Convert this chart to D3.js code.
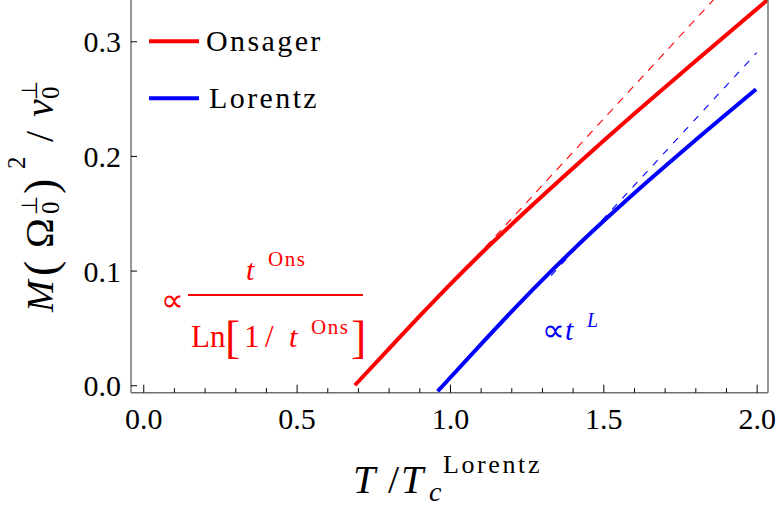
<!DOCTYPE html>
<html>
<head>
<meta charset="utf-8">
<script src="https://cdn.jsdelivr.net/npm/d3@7"></script>
<style>
  html, body { margin: 0; padding: 0; background: #fff; }
  svg { display: block; }
</style>
</head>
<body>
<svg id="chart" width="779" height="512"></svg>
<script>
// M (Omega_0^perp)^2 / nu_0^perp versus T / T_c^Lorentz
const onsagerT = [0.69, 0.8, 0.9, 1.0, 1.1, 1.2, 1.4, 1.6, 1.8, 2.04];
const onsagerM = [0.0, 0.0315, 0.0600, 0.0878, 0.1145, 0.1400, 0.1890, 0.2365, 0.2825, 0.3372];

const lorentzT = [0.96, 0.978, 1.1, 1.2, 1.3, 1.4, 1.5, 1.6, 1.8, 1.998];
const lorentzM = [-0.0053, 0.0, 0.0355, 0.0640, 0.0915, 0.1178, 0.1430, 0.1673, 0.2137, 0.2582];

// straight-line asymptotes (dashed)
const onsagerAsymT = [0.95, 1.86];
const onsagerAsymM = [0.0725, 0.3364];
const lorentzAsymT = [1.33, 2.0];
const lorentzAsymM = [0.0957, 0.29];

const xMajorTicks = [0.0, 0.5, 1.0, 1.5, 2.0];
const xMinorTicks = [0.1, 0.2, 0.3, 0.4, 0.6, 0.7, 0.8, 0.9, 1.1, 1.2, 1.3, 1.4, 1.6, 1.7, 1.8, 1.9];
const yTicks = [0.0, 0.1, 0.2, 0.3];
const legendLabels = ["Onsager", "Lorentz"];
const colors = ["#ff0000", "#0000ff"];

const FONT = "'Liberation Serif', 'Times New Roman', serif";
const svg = d3.select("#chart");
const mLeft = 131, mRight = 768, mTop = 0, mBottom = 392.7;
const axisColor = "#707070";

const x = d3.scaleLinear().domain([-0.04, 2.037]).range([mLeft, mRight]);
const y = d3.scaleLinear().domain([-0.0065, 0.336]).range([mBottom, mTop]);

svg.append("defs").append("clipPath").attr("id", "plotClip")
  .append("rect").attr("x", mLeft).attr("y", mTop)
  .attr("width", mRight - mLeft).attr("height", mBottom - mTop);

const plot = svg.append("g").attr("clip-path", "url(#plotClip)");
const line = d3.line().x(d => x(d[0])).y(d => y(d[1])).curve(d3.curveMonotoneX);
const zip = (a, b) => a.map((v, i) => [v, b[i]]);

// asymptotes
plot.append("path").datum(zip(onsagerAsymT, onsagerAsymM))
  .attr("d", line).attr("fill", "none").attr("stroke", colors[0])
  .attr("stroke-width", 1.1).attr("stroke-dasharray", "8,7");
plot.append("path").datum(zip(lorentzAsymT, lorentzAsymM))
  .attr("d", line).attr("fill", "none").attr("stroke", colors[1])
  .attr("stroke-width", 1.1).attr("stroke-dasharray", "7,8");

// curves
plot.append("path").datum(zip(onsagerT, onsagerM))
  .attr("d", line).attr("fill", "none").attr("stroke", colors[0])
  .attr("stroke-width", 4);
plot.append("path").datum(zip(lorentzT, lorentzM))
  .attr("d", line).attr("fill", "none").attr("stroke", colors[1])
  .attr("stroke-width", 4);

// frame
const frame = svg.append("g").attr("stroke", axisColor).attr("stroke-width", 1.5).attr("fill", "none");
frame.append("line").attr("x1", mLeft).attr("x2", mLeft).attr("y1", mTop).attr("y2", mBottom);
frame.append("line").attr("x1", mRight).attr("x2", mRight).attr("y1", mTop).attr("y2", mBottom);
frame.append("line").attr("x1", mLeft).attr("x2", mRight).attr("y1", mBottom).attr("y2", mBottom);

// x axis (ticks point inward)
const xAxis = d3.axisBottom(x).tickValues(xMajorTicks).tickSize(-8).tickFormat(d3.format(".1f"));
const gx = svg.append("g").attr("transform", `translate(0,${mBottom})`).call(xAxis);
gx.select(".domain").remove();
gx.selectAll(".tick line").attr("stroke", "#000").attr("stroke-width", 1);
gx.selectAll(".tick text").attr("fill", "#000").attr("font-size", 30)
  .attr("y", 15).attr("dy", "0.71em");

const xMinor = d3.axisBottom(x).tickValues(xMinorTicks).tickSize(-4.5).tickFormat("");
const gxm = svg.append("g").attr("transform", `translate(0,${mBottom})`).call(xMinor);
gxm.select(".domain").remove();
gxm.selectAll(".tick line").attr("stroke", "#000").attr("stroke-width", 1);

// y axis
const yAxis = d3.axisLeft(y).tickValues(yTicks).tickSize(-6).tickFormat(d3.format(".1f"));
const gy = svg.append("g").attr("transform", `translate(${mLeft},0)`).call(yAxis);
gy.select(".domain").remove();
gy.selectAll(".tick line").attr("stroke", "#000").attr("stroke-width", 1);
gy.selectAll(".tick text").attr("fill", "#000").attr("font-size", 30)
  .attr("x", -10).attr("dy", "0.35em");

// legend
const legend = svg.append("g");
legendLabels.forEach((lab, i) => {
  const ly = 41.3 + i * 57;
  legend.append("line").attr("x1", 149).attr("x2", 199).attr("y1", ly).attr("y2", ly)
    .attr("stroke", colors[i]).attr("stroke-width", 4);
  legend.append("text").attr("x", 206 + i * 3).attr("y", ly + 10)
    .attr("font-size", 30).attr("letter-spacing", "2.4px").attr("fill", "#000").text(lab);
});

// x-axis title: T / T_c^Lorentz
const xt = svg.append("g").attr("fill", "#000");
xt.append("text").attr("x", 353).attr("y", 493).attr("font-size", 40).attr("font-style", "italic").text("T");
xt.append("text").attr("x", 388).attr("y", 493).attr("font-size", 40).text("/");
xt.append("text").attr("x", 401).attr("y", 493).attr("font-size", 40).attr("font-style", "italic").text("T");
xt.append("text").attr("x", 429).attr("y", 501).attr("font-size", 28).attr("font-style", "italic").text("c");
xt.append("text").attr("x", 443).attr("y", 473).attr("font-size", 26).attr("letter-spacing", "2.6px").text("Lorentz");

// y-axis title: M (Omega_0^perp)^2 / nu_0^perp
const yt = svg.append("g").attr("transform", "translate(53,312) rotate(-90)").attr("fill", "#000");
yt.append("text").attr("x", 0).attr("y", 0).attr("font-size", 38).attr("font-style", "italic").text("M");
yt.append("text").attr("x", 36).attr("y", 3).attr("font-size", 46).text("(");
yt.append("text").attr("x", 64).attr("y", 0).attr("font-size", 40).text("Ω");
yt.append("text").attr("x", 98).attr("y", 6).attr("font-size", 25).text("0");
yt.append("text").attr("x", 97).attr("y", -16).attr("font-size", 22).text("⊥");
yt.append("text").attr("x", 118).attr("y", 3).attr("font-size", 46).text(")");
yt.append("text").attr("x", 143).attr("y", -28).attr("font-size", 25).text("2");
yt.append("text").attr("x", 170).attr("y", 0).attr("font-size", 40).text("/");
yt.append("text").attr("x", 195).attr("y", 0).attr("font-size", 40).attr("font-style", "italic").text("v");
yt.append("text").attr("x", 213).attr("y", 6).attr("font-size", 25).text("0");
yt.append("text").attr("x", 212).attr("y", -16).attr("font-size", 22).text("⊥");

// Onsager asymptotic form
const ann = svg.append("g").attr("fill", colors[0]);
ann.append("text").attr("x", 161).attr("y", 311).attr("font-size", 32).text("∝");
ann.append("line").attr("x1", 188).attr("x2", 363).attr("y1", 295).attr("y2", 295)
  .attr("stroke", colors[0]).attr("stroke-width", 2);
ann.append("text").attr("x", 246).attr("y", 280).attr("font-size", 30).attr("font-style", "italic").text("t");
ann.append("text").attr("x", 268).attr("y", 266).attr("font-size", 21).attr("letter-spacing", "1.5px").text("Ons");
ann.append("text").attr("x", 191).attr("y", 347).attr("font-size", 31).text("Ln");
ann.append("text").attr("x", 225).attr("y", 353).attr("font-size", 46).text("[");
ann.append("text").attr("x", 244).attr("y", 347).attr("font-size", 31).text("1");
ann.append("text").attr("x", 265).attr("y", 347).attr("font-size", 31).text("/");
ann.append("text").attr("x", 289).attr("y", 347).attr("font-size", 30).attr("font-style", "italic").text("t");
ann.append("text").attr("x", 311).attr("y", 334).attr("font-size", 21).attr("letter-spacing", "1.5px").text("Ons");
ann.append("text").attr("x", 351).attr("y", 353).attr("font-size", 46).text("]");

// Lorentz asymptotic form
const ann2 = svg.append("g").attr("fill", colors[1]);
ann2.append("text").attr("x", 542).attr("y", 341).attr("font-size", 32).text("∝");
ann2.append("text").attr("x", 565).attr("y", 340).attr("font-size", 30).attr("font-style", "italic").text("t");
ann2.append("text").attr("x", 587).attr("y", 327).attr("font-size", 20).attr("font-style", "italic").text("L");

// every label in a Times-like serif
svg.selectAll("text").style("font-family", FONT);
</script>
</body>
</html>
